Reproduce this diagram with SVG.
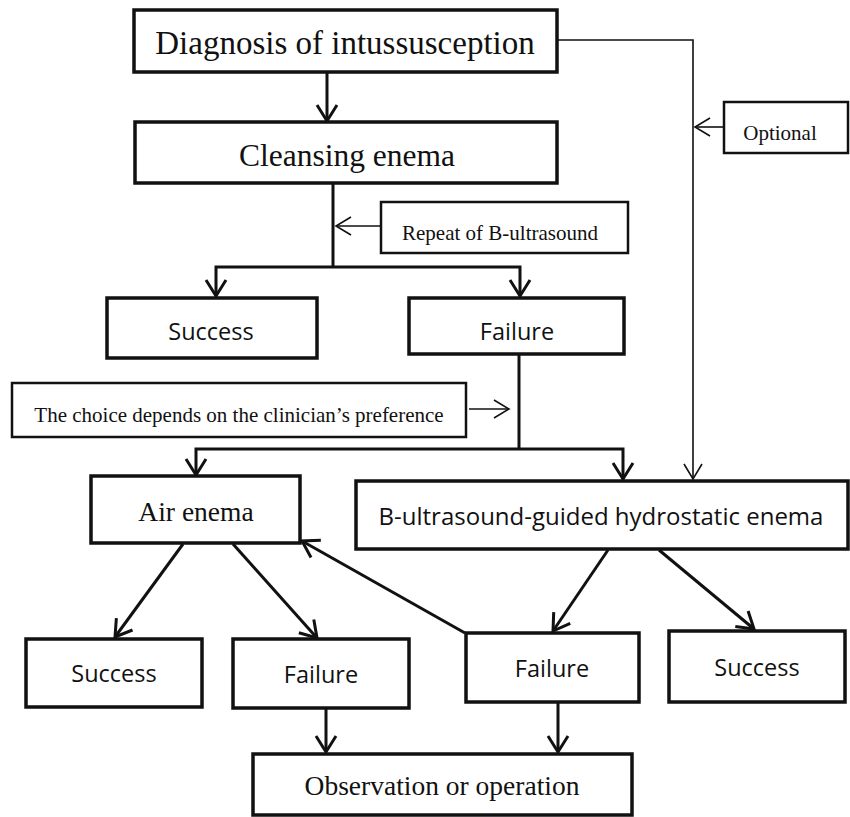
<svg xmlns="http://www.w3.org/2000/svg" width="850" height="817" viewBox="0 0 850 817">
<style>
.box{fill:#fff;stroke:#111;stroke-width:3.5}
.note{fill:#fff;stroke:#111;stroke-width:2.5}
.serif{font-family:"Liberation Serif","Times New Roman",serif;fill:#111;text-anchor:middle}
.sans{font-family:"Open Sans","Noto Sans",sans-serif;fill:#111;text-anchor:middle}
.thick{fill:none;stroke:#111;stroke-width:3}
.thin{fill:none;stroke:#111;stroke-width:1.6}
.ah{marker-end:url(#arrowThick)}
.at{marker-end:url(#arrowThin)}
</style>
<defs>
<marker id="arrowThick" markerUnits="userSpaceOnUse" viewBox="-18 -12 20 24" refX="0" refY="0" markerWidth="20" markerHeight="24" orient="auto" overflow="visible">
<path d="M-16,-10 L0,0 L-16,10" fill="none" stroke="#111" stroke-width="3" stroke-linejoin="miter"/>
</marker>
<marker id="arrowThin" markerUnits="userSpaceOnUse" viewBox="-18 -12 20 24" refX="0" refY="0" markerWidth="20" markerHeight="24" orient="auto" overflow="visible">
<path d="M-15,-9 L0,0 L-15,9" fill="none" stroke="#111" stroke-width="1.6"/>
</marker>
</defs>
<rect width="850" height="817" fill="#fff"/>
<g id="connectors">
<path class="thick ah" d="M327,72 V121"/>
<path class="thin at" d="M557,40 H693 V479"/>
<path class="thin at" d="M724,127 H695"/>
<path class="thick" d="M333,183 V267"/>
<path class="thick ah" d="M333,267 H216 V296"/>
<path class="thick ah" d="M333,267 H520 V296"/>
<path class="thin at" d="M381,226 H336"/>
<path class="thick" d="M519,354 V449"/>
<path class="thick ah" d="M519,449 H196 V475"/>
<path class="thick ah" d="M519,449 H623 V479"/>
<path class="thin at" d="M469,409 H509"/>
<path class="thick ah" d="M183,544 L115,637"/>
<path class="thick ah" d="M233,544 L317,638"/>
<path class="thick ah" d="M465,633 L302,541"/>
<path class="thick ah" d="M608,550 L553,631"/>
<path class="thick ah" d="M659,550 L754,629"/>
<path class="thick ah" d="M326,708 V752"/>
<path class="thick ah" d="M558,702 V752"/>
</g>
<g id="diagnosis">
<rect class="box" x="134" y="10" width="423" height="62"/>
<text class="serif" x="345" y="54" font-size="33">Diagnosis of intussusception</text>
</g>
<g id="cleansing">
<rect class="box" x="135" y="122" width="422" height="61"/>
<text class="serif" x="347" y="166" font-size="31.5">Cleansing enema</text>
</g>
<g id="optional">
<rect class="note" x="724" y="102" width="124" height="51"/>
<text class="serif" x="780" y="140" font-size="21">Optional</text>
</g>
<g id="repeat">
<rect class="note" x="381" y="202" width="247" height="51"/>
<text class="serif" x="500" y="240" font-size="21">Repeat of B-ultrasound</text>
</g>
<g id="success1">
<rect class="box" x="107" y="298" width="210" height="60"/>
<text class="sans" x="211" y="340" font-size="23.5">Success</text>
</g>
<g id="failure1">
<rect class="box" x="409" y="298" width="215" height="56"/>
<text class="sans" x="517" y="340" font-size="23.5">Failure</text>
</g>
<g id="choice">
<rect class="note" x="12" y="383" width="454" height="54"/>
<text class="serif" x="239" y="422" font-size="21">The choice depends on the clinician’s preference</text>
</g>
<g id="air-enema">
<rect class="box" x="91" y="476" width="209" height="67"/>
<text class="serif" x="196" y="521" font-size="27.5">Air enema</text>
</g>
<g id="hydrostatic-enema">
<rect class="box" x="356" y="481" width="492" height="68"/>
<text class="sans" x="601" y="525" font-size="24">B-ultrasound-guided hydrostatic enema</text>
</g>
<g id="success2">
<rect class="box" x="26" y="639" width="176" height="68"/>
<text class="sans" x="114" y="682" font-size="23.5">Success</text>
</g>
<g id="failure2">
<rect class="box" x="233" y="639" width="176" height="69"/>
<text class="sans" x="321" y="683" font-size="23.5">Failure</text>
</g>
<g id="failure3">
<rect class="box" x="466" y="633" width="173" height="69"/>
<text class="sans" x="552" y="677" font-size="23.5">Failure</text>
</g>
<g id="success3">
<rect class="box" x="669" y="631" width="176" height="71"/>
<text class="sans" x="757" y="676" font-size="23.5">Success</text>
</g>
<g id="observation">
<rect class="box" x="253" y="754" width="379" height="61"/>
<text class="serif" x="442" y="795" font-size="27.5">Observation or operation</text>
</g>
</svg>
